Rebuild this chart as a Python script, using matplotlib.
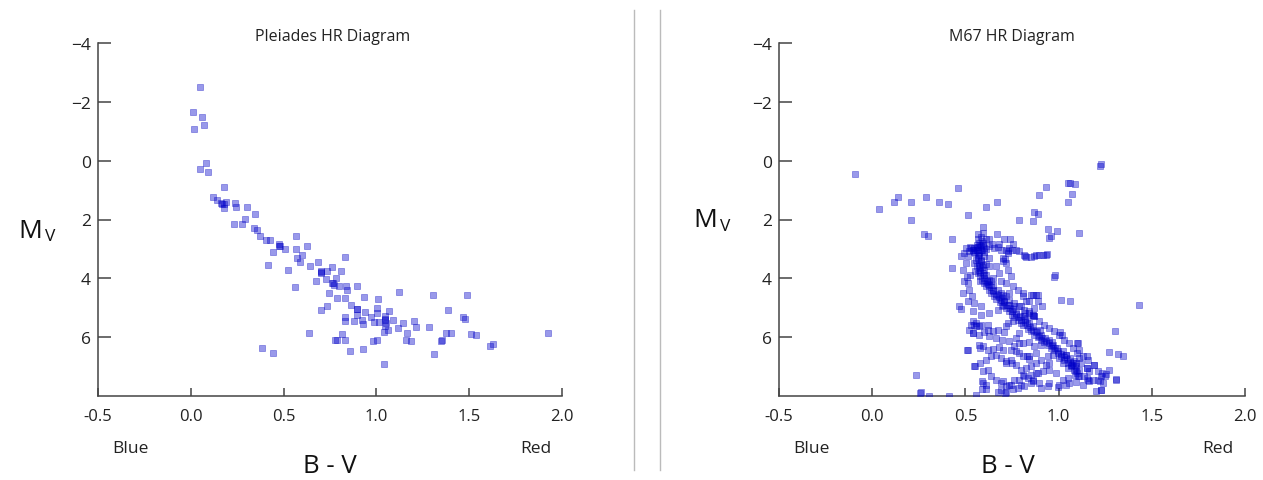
import matplotlib
matplotlib.use("Agg")
import matplotlib.pyplot as plt
from matplotlib.lines import Line2D

plt.rcParams['font.family'] = ['Open Sans', 'DejaVu Sans']

# Pleiades: B-V colour index and absolute magnitude
pleiades_bv = [0.049, 0.013, 0.059, 0.015, 0.07, 0.08, 0.051, 0.093, 0.177, 0.117,
               0.141, 0.165, 0.177, 0.179, 0.19, 0.238, 0.242, 0.302, 0.344, 0.293,
               0.232, 0.274, 0.339, 0.357, 0.371, 0.404, 0.425, 0.476, 0.478, 0.509,
               0.443, 0.569, 0.565, 0.624, 0.60, 0.573, 0.589, 0.415, 0.525, 0.64,
               0.686, 0.70, 0.703, 0.734, 0.759, 0.73, 0.672, 0.763, 0.769, 0.781,
               0.81, 0.829, 0.562, 0.796, 0.838, 0.893, 0.842, 0.743, 0.789, 0.829,
               0.933, 1.008, 1.122, 1.305, 1.488, 0.732, 0.699, 0.864, 0.895, 0.893,
               0.937, 1.001, 1.003, 1.07, 1.048, 0.829, 0.88, 0.829, 0.924, 0.928,
               0.972, 0.986, 1.016, 1.048, 1.054, 1.089, 1.048, 1.065, 1.043, 1.116,
               1.144, 1.20, 1.215, 1.283, 1.167, 1.387, 1.374, 1.403, 1.464, 1.48,
               1.51, 1.539, 1.923, 0.637, 0.814, 0.787, 0.833, 1.16, 1.188, 0.979,
               1.005, 1.347, 1.627, 1.612, 0.386, 0.441, 0.86, 0.926, 1.312, 1.039,
               0.778, 1.352, 0.704, 0.897, 1.048, 0.767, 0.476, 0.17]
pleiades_mv = [-2.49, -1.65, -1.49, -1.06, -1.21, 0.08, 0.29, 0.39, 0.89, 1.23,
               1.33, 1.43, 1.49, 1.62, 1.39, 1.45, 1.59, 1.57, 1.80, 1.98,
               2.15, 2.15, 2.29, 2.37, 2.57, 2.68, 2.68, 2.84, 2.91, 3.00,
               3.09, 2.56, 3.01, 2.89, 3.19, 3.32, 3.45, 3.54, 3.70, 3.57,
               3.45, 3.76, 3.82, 3.74, 3.61, 4.02, 4.09, 4.17, 4.22, 3.99,
               3.76, 3.27, 4.31, 4.25, 4.26, 4.25, 4.41, 4.50, 4.68, 4.68,
               4.65, 4.70, 4.46, 4.58, 4.58, 4.95, 5.08, 4.89, 5.03, 5.23,
               5.13, 5.02, 5.18, 5.11, 5.27, 5.32, 5.46, 5.44, 5.42, 5.56,
               5.33, 5.49, 5.49, 5.38, 5.52, 5.40, 5.61, 5.74, 5.83, 5.69,
               5.53, 5.44, 5.66, 5.66, 5.86, 5.06, 5.86, 5.86, 5.33, 5.39,
               5.88, 5.92, 5.86, 5.87, 5.89, 6.08, 6.08, 6.08, 6.14, 6.14,
               6.09, 6.13, 6.23, 6.29, 6.38, 6.55, 6.47, 6.41, 6.58, 6.91,
               6.08, 6.09, 3.79, 5.04, 5.40, 4.16, 2.89, 1.48]

# M67: B-V colour index and absolute magnitude
m67_bv = [
    # main sequence
    0.554, 0.566, 0.557, 0.571, 0.563, 0.575, 0.566, 0.580, 0.589, 0.602,
    0.611, 0.625, 0.638, 0.655, 0.664, 0.686, 0.70, 0.718, 0.732, 0.75,
    0.762, 0.78, 0.798, 0.81, 0.834, 0.852, 0.87, 0.888, 0.905, 0.923,
    0.941, 0.959, 0.977, 0.995, 1.012, 1.03, 1.048, 1.066, 1.084, 1.098, 1.104,
    0.584, 0.593, 0.602, 0.611, 0.629, 0.646, 0.673, 0.691, 0.718, 0.736,
    0.762, 0.789, 0.816, 0.843, 0.87, 0.896, 0.923, 0.95, 0.977, 1.004,
    1.03, 1.057, 1.079, 1.10, 1.11, 1.12,
    0.543, 0.561, 0.579, 0.589, 0.571, 0.548, 0.579, 0.554, 0.593, 0.579,
    0.614, 0.629, 0.65, 0.673, 0.696, 0.709, 0.736, 0.757, 0.771, 0.793,
    0.821, 0.843, 0.861, 0.882, 0.905, 0.929, 0.95, 0.971, 0.989, 1.021,
    1.039, 1.061, 1.075, 1.093, 1.11,
    0.560, 0.575, 0.570, 0.585, 0.572, 0.590, 0.580, 0.598, 0.600, 0.615,
    0.622, 0.635, 0.648, 0.662, 0.678, 0.690, 0.705, 0.722, 0.740, 0.752,
    0.770, 0.785, 0.800, 0.818, 0.830, 0.848, 0.862, 0.878, 0.895, 0.912,
    0.930, 0.948, 0.962, 0.980, 0.998, 1.015, 1.028, 1.045, 1.060, 1.072,
    1.088, 1.095, 0.600, 0.612, 0.640, 0.700, 0.760, 0.830, 0.900, 0.965,
    1.040, 1.085,
    # turnoff and subgiants
    0.504, 0.525, 0.548, 0.575, 0.584, 0.593, 0.602, 0.566, 0.539, 0.521,
    0.495, 0.513, 0.629, 0.652, 0.673, 0.641, 0.691, 0.718, 0.736, 0.771,
    0.754, 0.727, 0.70, 0.704, 0.816, 0.825, 0.879, 0.896, 0.914, 0.932,
    0.852, 0.584, 0.589, 0.611, 0.629, 0.679, 0.596,
    0.75, 0.79, 0.726, 0.71, 0.82, 0.87, 0.94,
    0.57, 0.585, 0.595, 0.56, 0.61, 0.545, 0.53, 0.60,
    # giants and blue stragglers
    -0.091, 0.039, 0.118, 0.1375, 0.207, 0.207, 0.289, 0.357, 0.409, 0.46,
    0.277, 0.298, 0.43, 0.5125, 0.611, 0.67, 0.593, 0.932, 0.893, 1.052,
    1.061, 1.086, 1.073, 1.052, 0.789, 0.868, 0.888, 0.861, 0.943, 0.991,
    0.946, 0.959, 1.111, 1.23, 1.221, 0.67, 0.568, 0.568, 0.707, 0.741,
    0.429, 0.477, 0.975, 0.982,
    # field stars
    0.5125, 0.521, 0.486, 0.536, 0.5125, 0.548, 0.584, 0.479, 0.543, 0.584,
    0.629, 0.673, 0.696, 0.736, 0.807, 0.852, 0.879, 0.888, 0.825, 0.798,
    0.843, 0.87, 0.816, 0.754, 0.727, 0.718, 0.709, 0.673, 0.646, 0.62,
    0.584, 0.539, 0.548, 0.557, 0.521, 0.543, 0.575, 0.602, 0.629, 0.664,
    0.696, 0.732, 0.771, 0.789, 0.807, 0.843, 0.87, 0.905, 0.879, 0.843,
    0.807, 0.771, 0.745, 0.704, 0.679, 0.646, 0.62, 0.593, 0.575, 0.5125,
    0.548, 0.580, 0.611, 0.6375, 0.664, 0.691, 0.718, 0.745, 0.771, 0.798,
    0.825, 0.852, 0.879, 0.905, 0.941, 0.968, 1.004, 1.021, 1.048, 1.066,
    1.093, 1.102, 1.129, 1.155, 1.164, 1.19, 1.209, 1.227, 1.254, 1.271,
    1.307, 1.155, 1.164, 1.182, 1.209, 1.236, 0.593, 0.62, 0.6375, 0.664,
    0.691, 0.718, 0.745, 0.7625, 0.789, 0.807, 0.834, 0.861, 0.8875, 0.914,
    0.95, 0.986, 1.021, 1.057, 1.093, 1.129, 0.593, 0.611, 0.673, 0.691,
    0.718, 0.754, 0.798, 0.852, 0.896, 0.941, 0.995, 1.039, 1.111, 1.1375,
    1.227, 0.236, 0.2625, 0.307, 0.414, 1.432, 1.302, 1.271, 1.316, 1.343,
    1.0625, 1.0125, 0.718, 0.727, 0.745, 0.718, 0.754, 0.78, 0.664, 0.682,
    0.646, 0.691, 0.629, 0.625, 0.807, 0.504, 0.525, 0.486, 0.507, 0.495,
    0.468, 0.51, 0.55, 0.54, 0.58, 0.53, 0.556, 0.575, 0.62, 0.59,
    0.61, 0.59, 0.556, 0.257, 0.91, 0.86, 0.887, 0.84, 0.86, 0.82,
    1.31, 1.235, 1.25, 1.19, 1.15, 1.16, 1.22, 1.23, 1.20, 1.00,
    0.905, 0.95, 0.86, 0.816, 0.78, 0.735, 0.70, 0.71, 1.05, 1.09,
    0.93, 0.95, 0.88, 0.85, 0.816, 0.83, 0.84, 0.72, 0.75, 0.79,
    0.76, 0.79, 1.01, 1.02, 1.10, 1.11, 1.15, 1.16, 0.86, 0.87]
m67_mv = [
    3.13, 3.25, 3.36, 3.47, 3.58, 3.70, 3.83, 3.92, 4.06, 4.15,
    4.26, 4.38, 4.49, 4.60, 4.69, 4.81, 4.89, 5.00, 5.11, 5.23,
    5.32, 5.40, 5.51, 5.60, 5.72, 5.80, 5.91, 5.99, 6.08, 6.17,
    6.25, 6.36, 6.44, 6.53, 6.65, 6.76, 6.87, 6.99, 7.10, 7.21, 7.33,
    3.36, 3.53, 3.70, 3.87, 4.04, 4.21, 4.38, 4.49, 4.60, 4.72,
    4.83, 4.94, 5.06, 5.17, 5.29, 5.46, 5.57, 5.68, 5.80, 5.91,
    6.08, 6.19, 6.36, 6.54, 6.71, 6.88,
    3.02, 2.93, 2.88, 3.02, 3.22, 3.47, 3.64, 3.75, 3.81, 4.09,
    4.09, 4.24, 4.38, 4.55, 4.66, 4.77, 4.92, 5.04, 5.17, 5.29,
    5.42, 5.51, 5.63, 5.80, 5.91, 6.02, 6.10, 6.25, 6.36, 6.47,
    6.59, 6.70, 6.87, 6.99, 7.10,
    3.05, 3.15, 3.30, 3.42, 3.55, 3.62, 3.78, 3.88, 3.98, 4.12,
    4.20, 4.30, 4.42, 4.52, 4.62, 4.72, 4.80, 4.90, 5.00, 5.10,
    5.22, 5.30, 5.40, 5.50, 5.58, 5.66, 5.75, 5.84, 5.95, 6.04,
    6.12, 6.20, 6.30, 6.38, 6.46, 6.56, 6.66, 6.75, 6.85, 6.95,
    7.05, 7.15, 3.25, 3.50, 4.08, 4.55, 4.95, 5.35, 5.75, 6.15,
    6.60, 6.80,
    2.96, 2.92, 2.96, 2.81, 2.90, 2.79, 2.96, 3.02, 3.02, 3.07,
    3.13, 3.24, 2.90, 2.96, 2.92, 2.84, 3.02, 3.02, 2.98, 3.02,
    2.84, 3.13, 3.30, 3.41, 3.22, 3.26, 3.19, 3.19, 3.22, 3.20,
    3.26, 2.58, 2.73, 2.67, 2.65, 2.84, 2.47,
    3.05, 3.07, 3.07, 3.35, 3.24, 3.24, 3.18,
    2.95, 3.05, 2.85, 2.85, 3.00, 3.10, 2.98, 3.12,
    0.44, 1.66, 1.41, 1.23, 1.39, 2.02, 1.22, 1.40, 1.48, 0.94,
    2.49, 2.57, 2.67, 1.86, 1.56, 1.39, 2.24, 0.88, 1.16, 0.76,
    0.76, 0.80, 1.14, 1.40, 2.00, 1.73, 1.81, 2.05, 2.33, 2.39,
    2.63, 2.56, 2.47, 0.12, 0.18, 2.50, 2.50, 2.65, 2.65, 2.67,
    3.64, 3.24, 3.95, 3.90,
    4.15, 4.38, 4.49, 4.60, 4.77, 4.85, 4.94, 5.04, 5.12, 5.23,
    5.17, 5.06, 4.94, 4.49, 4.49, 4.57, 4.57, 4.77, 4.77, 4.94,
    5.11, 5.00, 5.29, 5.46, 5.51, 5.63, 5.83, 5.74, 5.80, 5.74,
    5.57, 5.46, 5.57, 5.63, 5.74, 5.87, 5.91, 5.83, 5.97, 6.02,
    6.10, 6.14, 6.02, 5.87, 6.19, 6.17, 6.31, 6.25, 6.53, 6.65,
    6.65, 6.48, 6.42, 6.42, 6.33, 6.40, 6.42, 6.31, 6.25, 6.45,
    6.99, 6.87, 6.76, 6.65, 6.59, 6.70, 6.82, 6.76, 6.93, 7.10,
    7.04, 6.99, 6.87, 6.76, 6.65, 6.59, 6.70, 6.87, 7.04, 6.96,
    6.87, 6.19, 6.65, 7.04, 7.16, 6.93, 7.16, 7.33, 7.24, 7.10,
    7.44, 7.38, 7.50, 7.44, 7.44, 7.55, 7.16, 7.10, 7.33, 7.44,
    7.55, 7.67, 7.61, 7.44, 7.44, 7.30, 7.38, 7.44, 7.21, 7.16,
    7.10, 7.21, 7.44, 7.55, 7.53, 7.61, 7.55, 7.76, 7.87, 7.81,
    7.87, 7.76, 7.61, 7.55, 7.55, 7.67, 7.69, 7.61, 7.33, 7.33,
    7.78, 7.30, 7.87, 7.99, 7.99, 4.92, 5.79, 6.51, 6.57, 6.63,
    4.77, 4.72, 3.47, 3.70, 3.92, 4.15, 4.26, 4.38, 3.58, 3.83,
    3.98, 4.09, 3.58, 3.30, 4.60, 3.47, 3.87, 3.70, 3.95, 4.09,
    4.94, 6.45, 6.99, 5.87, 6.36, 5.57, 5.51, 5.63, 5.57, 7.50,
    7.61, 7.75, 7.98, 7.89, 4.94, 4.58, 4.55, 4.77, 5.23, 5.17,
    7.42, 7.21, 7.33, 6.93, 7.04, 7.44, 7.50, 7.78, 7.84, 7.61,
    7.72, 7.55, 7.50, 7.67, 7.72, 7.61, 7.50, 7.89, 7.38, 7.27,
    6.93, 6.87, 7.21, 7.27, 7.33, 6.65, 6.74, 6.87, 6.87, 6.53,
    6.31, 6.19, 5.83, 5.91, 6.19, 6.42, 6.65, 6.76, 5.23, 5.28]

xticks = [-0.5, 0.0, 0.5, 1.0, 1.5, 2.0]
yticks = [-4, -2, 0, 2, 4, 6]

W, H = 1263, 481
fig = plt.figure(figsize=(W / 100, H / 100), dpi=100)

ax1 = fig.add_axes([98 / W, 84 / H, 464 / W, 353 / H])
ax2 = fig.add_axes([779 / W, 84 / H, 466 / W, 353 / H])

panels = [
    (ax1, pleiades_bv, pleiades_mv, 'Pleiades HR Diagram', 333, 130, 536, 330, (30, 231)),
    (ax2, m67_bv, m67_mv, 'M67 HR Diagram', 1012, 811, 1218, 1008, (705, 221)),
]

for ax, bv, mv, title, tx, bx, rx, lx, (mx, my) in panels:
    ax.scatter(bv, mv, marker='s', s=24, color=(0.0, 0.0, 0.8, 0.4),
               edgecolors=(0.0, 0.0, 0.75, 0.45), linewidths=0.5, zorder=3)
    ax.set_xlim(-0.5, 2.0)
    ax.set_ylim(8, -4)
    ax.set_xticks(xticks)
    ax.set_yticks(yticks)
    ax.set_xticklabels(['%.1f' % t for t in xticks])
    ax.spines['top'].set_visible(False)
    ax.spines['right'].set_visible(False)
    for sp in ['left', 'bottom']:
        ax.spines[sp].set_color('#444444')
        ax.spines[sp].set_linewidth(1.1)
    ax.tick_params(axis='x', direction='in', length=6, width=1.1, color='#444444',
                   pad=9, labelsize=12, labelcolor='#222222')
    ax.tick_params(axis='y', direction='in', length=9, width=1.1, color='#444444',
                   pad=5, labelsize=12.5, labelcolor='#222222')
    ax.set_facecolor('white')

    fig.text(tx / W, 1 - 37 / H, title, ha='center', va='center', fontsize=11.5, color='#222222')
    fig.text(bx / W, 1 - 449 / H, 'Blue', ha='center', va='center', fontsize=12.5, color='#222222')
    fig.text(rx / W, 1 - 449 / H, 'Red', ha='center', va='center', fontsize=12.5, color='#222222')
    fig.text(lx / W, 1 - 467 / H, 'B - V', ha='center', va='center', fontsize=18.5, color='#111111')
    fig.text(mx / W, 1 - my / H, 'M', ha='center', va='center', fontsize=19, color='#111111')
    fig.text((mx + 20) / W, 1 - (my + 6) / H, 'V', ha='center', va='center', fontsize=12.5, color='#111111')

# grey separator lines between the two panels
for x in [634, 660]:
    fig.add_artist(Line2D([x / W, x / W], [1 - 11 / H, 1 - 471 / H],
                          transform=fig.transFigure, color='#bbbbbb', linewidth=1.0))

fig.savefig('out.png', dpi=100, facecolor='white')
